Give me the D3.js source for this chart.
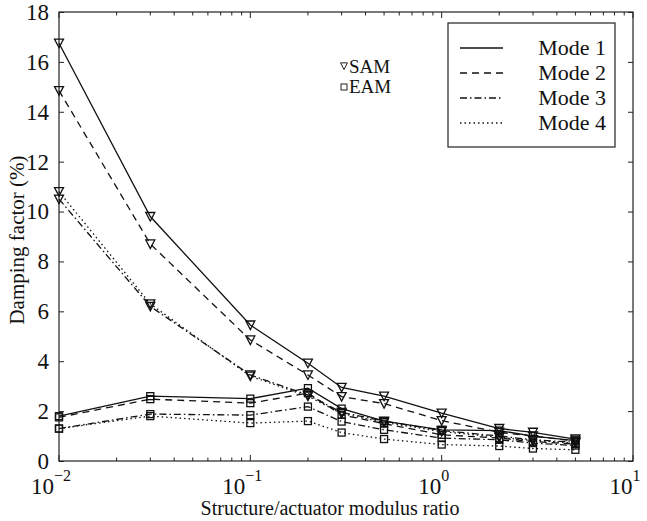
<!DOCTYPE html>
<html>
<head>
<meta charset="utf-8">
<script src="https://cdn.jsdelivr.net/npm/d3@7"></script>
<style>
  body { margin: 0; background: #fff; }
  text { font-family: "Liberation Serif", "DejaVu Serif", serif; fill: #111; }
</style>
</head>
<body>
<svg id="svg" width="647" height="521"></svg>
<script>
// modulus ratio (x) and damping factor (%) for each mode
var ratio = [0.01, 0.03, 0.1, 0.2, 0.3, 0.5, 1, 2, 3, 5];
var sam1 = [16.75, 9.8, 5.45, 3.92, 2.95, 2.6, 1.92, 1.3, 1.15, 0.88];
var sam2 = [14.85, 8.7, 4.85, 3.45, 2.58, 2.3, 1.62, 1.15, 1.0, 0.8];
var sam3 = [10.5, 6.2, 3.45, 2.65, 1.95, 1.6, 1.22, 1.0, 0.85, 0.75];
var sam4 = [10.8, 6.3, 3.4, 2.6, 1.9, 1.55, 1.18, 0.95, 0.82, 0.72];
var eam1 = [1.8, 2.6, 2.5, 2.92, 2.1, 1.6, 1.25, 1.22, 1.0, 0.82];
var eam2 = [1.75, 2.48, 2.32, 2.72, 1.85, 1.5, 1.05, 0.92, 0.78, 0.68];
var eam3 = [1.3, 1.88, 1.84, 2.18, 1.58, 1.25, 0.92, 0.85, 0.72, 0.62];
var eam4 = [1.3, 1.8, 1.52, 1.6, 1.14, 0.88, 0.66, 0.6, 0.5, 0.45];
var modes = ["Mode 1", "Mode 2", "Mode 3", "Mode 4"];
var yTicks = [0, 2, 4, 6, 8, 10, 12, 14, 16, 18];
var xDecades = [0.01, 0.1, 1, 10];
var xExp = ["\u22122", "\u22121", "0", "1"];

var dashes = [null, "7,5", "7,3,1.5,3", "1.5,3"];

var svg = d3.select("svg");
var x = d3.scaleLog().domain([0.01, 10]).range([59, 633]);
var y = d3.scaleLinear().domain([0, 18]).range([461, 12]);

// frame
svg.append("rect")
  .attr("x", 59).attr("y", 12)
  .attr("width", 633 - 59).attr("height", 461 - 12)
  .attr("fill", "none").attr("stroke", "#222").attr("stroke-width", 1.2);

// y ticks (left + right, inward)
var yl = svg.append("g").attr("transform", "translate(59,0)")
  .call(d3.axisLeft(y).tickValues(yTicks).tickSizeInner(-5).tickSizeOuter(0).tickPadding(10));
var yr = svg.append("g").attr("transform", "translate(633,0)")
  .call(d3.axisRight(y).tickValues(yTicks).tickSizeInner(-5).tickSizeOuter(0).tickFormat(""));
[yl, yr].forEach(function(g){
  g.select(".domain").remove();
  g.selectAll("line").attr("stroke", "#222");
});
yl.selectAll("text").attr("font-size", 23).attr("font-family", "Liberation Serif").attr("fill", "#111");

// x ticks, log minor ticks on bottom and top
var minor = [];
[0.01, 0.1, 1].forEach(function(d){
  for (var k = 2; k <= 9; k++) minor.push(d * k);
});
[461, 12].forEach(function(y0){
  var dir = y0 === 461 ? -1 : 1;
  svg.selectAll(null).data(xDecades).enter().append("line")
    .attr("x1", function(d){ return x(d); }).attr("x2", function(d){ return x(d); })
    .attr("y1", y0).attr("y2", y0 + dir * 6)
    .attr("stroke", "#222");
  svg.selectAll(null).data(minor).enter().append("line")
    .attr("x1", function(d){ return x(d); }).attr("x2", function(d){ return x(d); })
    .attr("y1", y0).attr("y2", y0 + dir * 3.5)
    .attr("stroke", "#222");
});

// x tick labels 10^n
var xl = svg.selectAll(null).data(xDecades).enter().append("text")
  .attr("x", function(d){ return x(d) - 8; })
  .attr("y", 494)
  .attr("text-anchor", "middle")
  .attr("font-size", 23);
xl.append("tspan").text("10");
xl.append("tspan").attr("dy", -13).attr("font-size", 16)
  .text(function(d, i){ return xExp[i]; });

// axis titles
svg.append("text")
  .attr("x", 330).attr("y", 515)
  .attr("text-anchor", "middle")
  .attr("font-size", 20)
  .text("Structure/actuator modulus ratio");
svg.append("text")
  .attr("transform", "translate(24,240) rotate(-90)")
  .attr("text-anchor", "middle")
  .attr("font-size", 21)
  .text("Damping factor (%)");

// series
var samSeries = [sam1, sam2, sam3, sam4];
var eamSeries = [eam1, eam2, eam3, eam4];
var line = d3.line()
  .x(function(d, i){ return x(ratio[i]); })
  .y(function(d){ return y(d); });

function tri(cx, cy, s) {
  s = s || 4.5;
  return "M" + (cx - s) + "," + (cy - s * 0.9) + "L" + (cx + s) + "," + (cy - s * 0.9) + "L" + cx + "," + (cy + s) + "Z";
}

[eamSeries, samSeries].forEach(function(group, gi){
  group.forEach(function(vals, m){
    svg.append("path")
      .attr("d", line(vals))
      .attr("fill", "none")
      .attr("stroke", "#111")
      .attr("stroke-width", 1.3)
      .attr("stroke-dasharray", dashes[m]);
    if (gi === 1) {
      svg.selectAll(null).data(vals).enter().append("path")
        .attr("d", function(d, i){ return tri(x(ratio[i]), y(d)); })
        .attr("fill", "none").attr("stroke", "#111").attr("stroke-width", 1.3);
    } else {
      svg.selectAll(null).data(vals).enter().append("rect")
        .attr("x", function(d, i){ return x(ratio[i]) - 3.5; })
        .attr("y", function(d){ return y(d) - 3.5; })
        .attr("width", 7).attr("height", 7)
        .attr("fill", "none").attr("stroke", "#111").attr("stroke-width", 1.3);
    }
  });
});

// SAM / EAM marker key
svg.append("path").attr("d", tri(344, 66, 3.5)).attr("fill", "none").attr("stroke", "#222").attr("stroke-width", 1);
svg.append("text").attr("x", 349).attr("y", 73).attr("font-size", 19).text("SAM");
svg.append("rect").attr("x", 341).attr("y", 84).attr("width", 6).attr("height", 6)
  .attr("fill", "none").attr("stroke", "#222").attr("stroke-width", 1);
svg.append("text").attr("x", 349).attr("y", 93).attr("font-size", 19).text("EAM");

// legend
var lg = svg.append("g");
lg.append("rect")
  .attr("x", 448).attr("y", 23).attr("width", 167).attr("height", 124)
  .attr("fill", "#fff").attr("stroke", "#222").attr("stroke-width", 1.2);
modes.forEach(function(m, i){
  var yy = 48 + i * 25;
  lg.append("line")
    .attr("x1", 460).attr("x2", 503).attr("y1", yy).attr("y2", yy)
    .attr("stroke", "#111").attr("stroke-width", 1.3)
    .attr("stroke-dasharray", dashes[i]);
  lg.append("text")
    .attr("x", 606).attr("y", yy + 7)
    .attr("text-anchor", "end")
    .attr("font-size", 22)
    .text(m);
});
</script>
</body>
</html>
